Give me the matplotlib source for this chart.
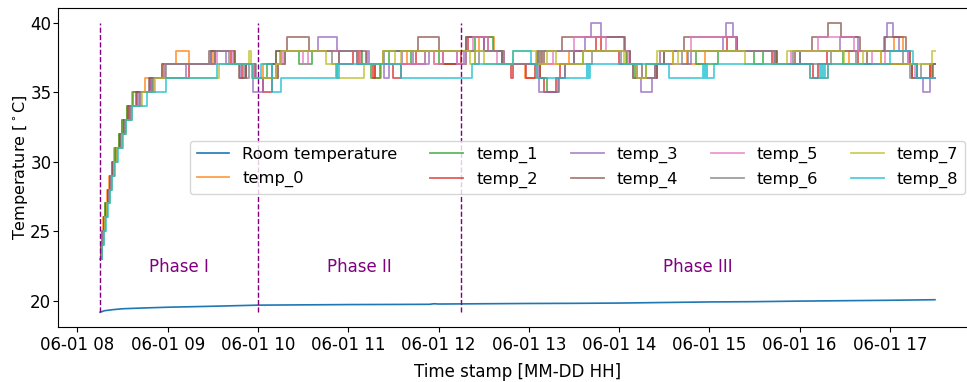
import pandas as pd
import numpy as np
import matplotlib
matplotlib.use("Agg")
import matplotlib.pyplot as plt
import matplotlib.dates as mdates

# ── Data (hour of day, value) ──────────────────────────────────────────────
DAY = pd.Timestamp("2021-06-01")

room_h = [8.25, 8.3, 8.4, 8.5, 8.75, 9.0, 9.5, 10.0, 10.5, 11.0, 11.5, 11.9, 11.95,
          12.0, 12.5, 13.0, 13.5, 14.0, 14.5, 15.0, 15.5, 16.0, 16.5, 17.0, 17.5]
room_v = [19.17, 19.28, 19.36, 19.42, 19.48, 19.53, 19.6, 19.68, 19.7, 19.72, 19.73, 19.74, 19.78,
          19.76, 19.78, 19.8, 19.81, 19.83, 19.87, 19.91, 19.93, 19.97, 20.0, 20.03, 20.07]

temp_0 = [(8.25, 23), (8.256, 24), (8.27, 25), (8.287, 26), (8.305, 27), (8.33, 28), (8.353, 29),
          (8.38, 30), (8.41, 31), (8.455, 32), (8.49, 33), (8.548, 34), (8.605, 35), (8.745, 36),
          (8.94, 37), (9.09, 38), (9.23, 37), (9.5, 38), (9.74, 37), (9.95, 36), (10.05, 37),
          (10.24, 38), (11.14, 37), (11.3, 36), (11.36, 37), (11.65, 38), (11.95, 37), (12.3, 38),
          (12.45, 39), (12.62, 38), (12.72, 37), (12.96, 36), (13.09, 37), (13.45, 38), (14.08, 37),
          (14.2, 36), (14.42, 37), (14.6, 38), (14.75, 37), (14.95, 38), (15.75, 37), (16.12, 36),
          (16.31, 37), (16.55, 38), (16.75, 37), (16.9, 38), (17.05, 39), (17.15, 38), (17.22, 37),
          (17.3, 36), (17.44, 37), (17.5, 37)]
temp_1 = [(8.25, 23), (8.26, 24), (8.274, 25), (8.29, 26), (8.308, 27), (8.334, 28), (8.357, 29),
          (8.384, 30), (8.413, 31), (8.458, 32), (8.495, 33), (8.552, 34), (8.612, 35), (8.84, 36),
          (8.96, 37), (9.48, 38), (9.73, 37), (9.96, 36), (10.1, 37), (10.2, 38), (10.45, 37),
          (10.6, 38), (11.15, 37), (11.25, 36), (11.35, 37), (11.45, 38), (11.7, 37), (11.85, 38),
          (12.0, 37), (12.3, 38), (12.4, 39), (12.6, 38), (12.7, 37), (13.12, 36), (13.2, 35),
          (13.33, 36), (13.4, 37), (13.6, 38), (14.09, 37), (14.18, 36), (14.3, 37), (14.45, 38),
          (14.85, 37), (15.1, 38), (15.5, 37), (15.6, 38), (15.74, 37), (16.0, 38), (16.48, 37),
          (17.25, 36), (17.47, 37), (17.5, 37)]
temp_2 = [(8.25, 23), (8.265, 24), (8.28, 25), (8.297, 26), (8.317, 27), (8.342, 28), (8.366, 29),
          (8.395, 30), (8.424, 31), (8.475, 32), (8.515, 33), (8.57, 34), (8.66, 35), (8.8, 36),
          (9.23, 37), (9.52, 38), (9.7, 37), (9.82, 36), (9.87, 37), (9.97, 36), (10.05, 35),
          (10.15, 36), (10.22, 37), (10.3, 38), (10.9, 37), (11.05, 38), (11.12, 37), (11.27, 36),
          (11.3, 37), (11.5, 36), (11.58, 37), (11.75, 38), (12.05, 37), (12.25, 38), (12.33, 39),
          (12.5, 38), (12.7, 37), (12.8, 36), (12.82, 37), (12.97, 36), (13.07, 37), (13.12, 36),
          (13.17, 35), (13.3, 36), (13.35, 37), (13.5, 38), (13.75, 39), (13.8, 38), (14.0, 37),
          (14.15, 36), (14.4, 37), (14.5, 38), (15.2, 39), (15.3, 38), (15.7, 37), (16.15, 36),
          (16.2, 37), (16.3, 38), (16.65, 37), (17.25, 36), (17.45, 37), (17.5, 37)]
temp_3 = [(8.25, 23), (8.268, 24), (8.284, 25), (8.3, 26), (8.32, 27), (8.347, 28), (8.37, 29),
          (8.398, 30), (8.428, 31), (8.482, 32), (8.522, 33), (8.578, 34), (8.68, 35), (8.82, 36),
          (9.2, 37), (9.48, 38), (9.65, 37), (9.8, 36), (9.87, 37), (9.94, 35), (10.06, 36),
          (10.2, 37), (10.25, 38), (10.66, 39), (10.88, 38), (11.1, 37), (11.21, 38), (11.23, 37),
          (11.4, 36), (11.45, 37), (11.6, 38), (11.72, 37), (11.9, 38), (12.2, 37), (12.28, 38),
          (12.3, 39), (12.5, 38), (12.72, 37), (13.11, 35), (13.32, 36), (13.4, 37), (13.5, 38),
          (13.62, 39), (13.69, 40), (13.8, 39), (14.05, 38), (14.12, 37), (14.2, 36), (14.24, 35),
          (14.37, 36), (14.42, 37), (14.8, 38), (15.15, 39), (15.19, 40), (15.26, 39), (15.31, 38),
          (15.72, 37), (16.0, 38), (16.45, 39), (16.65, 38), (16.93, 39), (16.97, 40), (17.03, 39),
          (17.1, 38), (17.2, 37), (17.3, 36), (17.37, 35), (17.45, 36), (17.5, 36)]
temp_4 = [(8.25, 23), (8.264, 24), (8.278, 25), (8.295, 26), (8.315, 27), (8.34, 28), (8.364, 29),
          (8.393, 30), (8.422, 31), (8.472, 32), (8.51, 33), (8.565, 34), (8.65, 35), (8.79, 36),
          (8.94, 37), (9.46, 38), (9.75, 37), (9.79, 36), (9.87, 37), (9.97, 36), (10.15, 37),
          (10.2, 38), (10.32, 39), (10.57, 38), (11.2, 37), (11.38, 38), (11.77, 39), (12.0, 38),
          (12.3, 39), (12.55, 38), (12.7, 37), (13.09, 38), (13.11, 37), (13.13, 38), (13.15, 37),
          (13.17, 38), (13.37, 39), (14.07, 38), (14.12, 37), (14.25, 36), (14.42, 37), (14.5, 38),
          (14.72, 39), (15.31, 38), (15.75, 37), (15.95, 38), (16.14, 39), (16.32, 40), (16.46, 39),
          (16.67, 38), (16.95, 39), (17.18, 38), (17.22, 37), (17.3, 36), (17.48, 37), (17.5, 37)]
temp_5 = [(8.25, 23), (8.27, 24), (8.287, 25), (8.304, 26), (8.325, 27), (8.352, 28), (8.376, 29),
          (8.404, 30), (8.435, 31), (8.488, 32), (8.528, 33), (8.588, 34), (8.7, 35), (8.85, 36),
          (8.97, 37), (9.55, 38), (9.72, 37), (9.96, 36), (10.2, 37), (10.28, 38), (10.5, 37),
          (10.55, 38), (11.13, 37), (11.85, 38), (11.95, 37), (12.05, 38), (12.2, 37), (12.3, 38),
          (12.38, 39), (12.55, 38), (12.65, 37), (13.27, 38), (13.5, 39), (13.85, 38), (14.1, 37),
          (14.2, 36), (14.4, 37), (14.45, 38), (14.8, 39), (15.3, 38), (15.73, 37), (15.9, 38),
          (16.2, 39), (16.6, 38), (16.8, 37), (16.95, 38), (17.2, 37), (17.28, 36), (17.5, 36)]
temp_6 = [(8.25, 23), (8.268, 24), (8.285, 25), (8.302, 26), (8.322, 27), (8.35, 28), (8.373, 29),
          (8.401, 30), (8.431, 31), (8.485, 32), (8.526, 33), (8.584, 34), (8.69, 35), (8.83, 36),
          (8.98, 37), (9.52, 38), (9.68, 37), (9.85, 36), (9.9, 37), (9.98, 36), (10.22, 37),
          (10.3, 38), (10.82, 37), (10.9, 38), (11.1, 37), (11.4, 38), (12.4, 37), (12.45, 38),
          (12.7, 37), (13.1, 38), (13.5, 37), (13.7, 38), (14.02, 37), (14.16, 36), (14.4, 37),
          (14.5, 38), (14.7, 37), (14.76, 38), (15.73, 37), (15.93, 38), (16.0, 37), (16.35, 38),
          (16.62, 37), (16.75, 38), (17.15, 37), (17.22, 36), (17.35, 37), (17.5, 37)]
temp_7 = [(8.25, 23), (8.274, 24), (8.292, 25), (8.309, 26), (8.33, 27), (8.357, 28), (8.38, 29),
          (8.41, 30), (8.44, 31), (8.495, 32), (8.535, 33), (8.6, 34), (8.71, 35), (8.86, 36),
          (9.57, 37), (9.9, 38), (9.92, 37), (9.95, 36), (10.2, 37), (10.25, 38), (10.75, 37),
          (10.88, 36), (11.17, 37), (11.38, 38), (11.52, 37), (11.58, 38), (12.35, 37), (12.4, 38),
          (12.5, 37), (12.83, 38), (13.08, 37), (13.2, 38), (13.3, 37), (13.6, 38), (14.05, 37),
          (14.2, 36), (14.3, 37), (14.42, 38), (14.6, 37), (14.65, 38), (15.4, 37), (15.86, 38),
          (16.49, 37), (16.7, 38), (16.9, 37), (17.47, 38), (17.5, 38)]
temp_8 = [(8.25, 23), (8.276, 24), (8.295, 25), (8.312, 26), (8.333, 27), (8.36, 28), (8.383, 29),
          (8.413, 30), (8.445, 31), (8.5, 32), (8.54, 33), (8.6, 34), (8.775, 35), (8.98, 36),
          (9.55, 37), (9.93, 36), (10.03, 37), (10.15, 35), (10.25, 36), (10.86, 37), (10.87, 36),
          (10.88, 37), (10.89, 36), (10.9, 37), (11.58, 36), (12.37, 37), (12.83, 38), (13.02, 37),
          (13.09, 36), (13.64, 37), (13.65, 36), (13.66, 37), (13.67, 36), (13.68, 37), (14.55, 36),
          (14.93, 37), (14.94, 36), (14.95, 37), (14.96, 36), (14.97, 37), (14.98, 36), (15.05, 37),
          (16.12, 36), (16.23, 37), (16.24, 36), (16.25, 37), (16.26, 36), (16.27, 37), (16.28, 36),
          (16.31, 37), (17.0, 38), (17.26, 37), (17.3, 36), (17.5, 36)]

sensors = [temp_0, temp_1, temp_2, temp_3, temp_4, temp_5, temp_6, temp_7, temp_8]
sensor_names = [f"temp_{i}" for i in range(len(sensors))]

phase_h = [8.25, 10.0, 12.25]
phase_labels = ["Phase I", "Phase II", "Phase III"]
phase_end_h = 17.5


def to_time(hours):
    return DAY + pd.to_timedelta(np.asarray(hours, dtype=float), unit="h")


# ── Plot ───────────────────────────────────────────────────────────────────
plt.rcParams["font.size"] = 12

fig = plt.figure(figsize=(9.67, 3.82), dpi=100)
ax = fig.add_axes([58.3 / 967, 55.3 / 382, 918.4 / 967, 318.4 / 382])

ax.plot(to_time(room_h), room_v, color="#1f77b4", linewidth=1.2, label="Room temperature")

colors = plt.rcParams["axes.prop_cycle"].by_key()["color"]
for i, (name, pts) in enumerate(zip(sensor_names, sensors)):
    h = [p[0] for p in pts]
    v = [p[1] for p in pts]
    ax.plot(to_time(h), v, drawstyle="steps-post", color=colors[(i + 1) % 10],
            linewidth=1.3, alpha=0.75, label=name)

# phase boundaries + labels
ymin = min(room_v)
ymax = max(max(p[1] for p in s) for s in sensors)
ax.vlines(to_time(phase_h), ymin, ymax, colors="purple", linestyles="--", linewidth=1)
bounds = phase_h + [phase_end_h]
for k, lab in enumerate(phase_labels):
    mid = (bounds[k] + bounds[k + 1]) / 2
    ax.text(to_time([mid])[0], 22.4, lab, color="purple", ha="center", va="center", fontsize=12)

ax.xaxis.set_major_locator(mdates.HourLocator())
ax.xaxis.set_major_formatter(mdates.DateFormatter("%m-%d %H"))
ax.tick_params(labelsize=12)
ax.tick_params(axis="y", pad=1.5)
ax.set_xlabel("Time stamp [MM-DD HH]", labelpad=6)
ax.set_ylabel("Temperature [$^\\circ$C]", fontsize=11.5, labelpad=0)

ax.legend(ncol=5, loc="center right", bbox_to_anchor=(0.9873, 0.5), borderaxespad=0,
          fontsize=11.8)

fig.savefig("out.png", dpi=100)
print("Saved: out.png")
